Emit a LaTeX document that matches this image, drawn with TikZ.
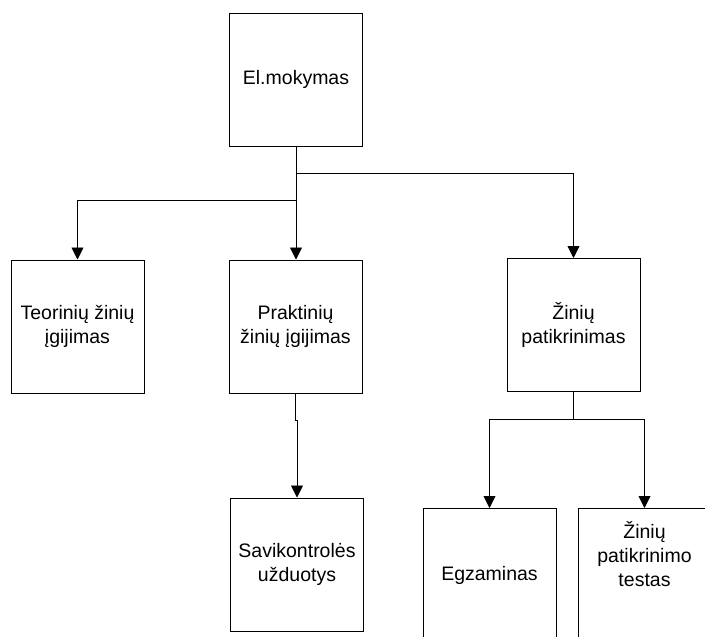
\documentclass[tikz,border=0pt]{standalone}
\usepackage{fontspec}
\setmainfont{Liberation Sans}
\usetikzlibrary{arrows.meta,calc}

\tikzset{
  boxfont/.style={align=center, font=\fontsize{19.5}{24}\selectfont},
  box/.style={draw, fill=white, line width=1pt, minimum width=133, minimum height=133,
    inner sep=2pt, boxfont},
  arr/.style={line width=0.9pt, -{Triangle[width=12pt,length=12pt]}},
  link/.style={line width=0.9pt}
}

\begin{document}
\begin{tikzpicture}[x=1pt, y=-1pt]
        \clip (0,0) rectangle (705,637);
        \fill[white] (0,0) rectangle (705,637);
        % boxes
        \node[box] (elm) at (296,79.5) {El.mokymas};
        \node[box] (teor) at (77.5,326.5) {Teorinių žinių\\įgijimas};
        \node[box] (prak) at (295.5,326.5) {Praktinių\\žinių įgijimas};
        \node[box] (zin) at (573.5,325) {Žinių\\patikrinimas};
        \node[box] (savi) at (297,564.5) {Savikontrolės\\užduotys};
        \node[box] (egz) at (489.5,575) {Egzaminas};
        \node[box] (test) at (644.5,575) {};
        \node[boxfont] (testtxt) at (644.5,554) {Žinių\\patikrinimo\\testas};
        % branches from the top box
        \coordinate (rsplit) at ($(elm.south)+(0,27)$);
        \coordinate (lsplit) at ($(elm.south)+(0,54)$);
        \draw[arr] (elm.south) -- (elm.south |- prak.north);
        \draw[arr] (lsplit) -| (teor.north);
        \draw[arr] (rsplit) -| (zin.north);
        % second level
        \draw[arr] (prak.south) -- ++(0,27) -| (savi.north);
        \coordinate (zsplit) at ($(zin.south)+(0,27)$);
        \draw[link] (zin.south) -- (zsplit);
        \draw[arr] (zsplit) -| (egz.north);
        \draw[arr] (zsplit) -| (test.north);
    \end{tikzpicture}
\end{document}
